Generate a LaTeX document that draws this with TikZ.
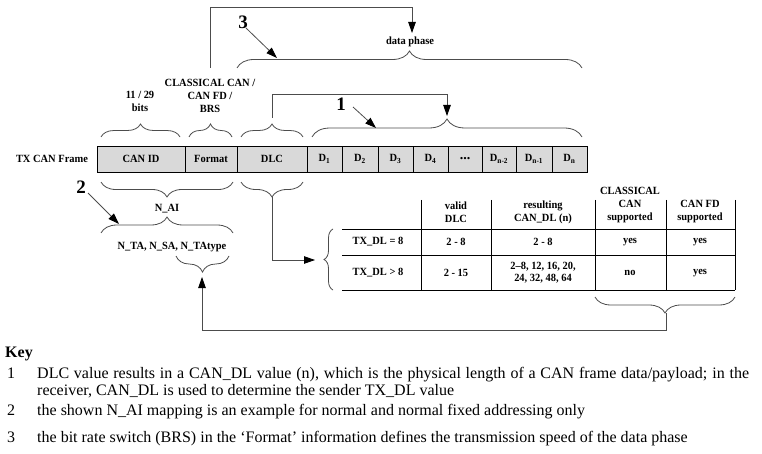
\documentclass[tikz,border=0pt]{standalone}
\usepackage{fontspec}
\setmainfont{Liberation Serif}
\newfontfamily\diafont[FakeStretch=0.95]{Liberation Serif}
\usetikzlibrary{arrows.meta,decorations.pathreplacing}
\definecolor{ln}{gray}{0.3}
\definecolor{cellfill}{gray}{0.85}
\newcommand\dfont{\diafont\bfseries\fontsize{11}{13}\selectfont}
\newcommand\kfont{\fontsize{16}{17}\selectfont}
\begin{document}
\begin{tikzpicture}[x=1pt,y=-1pt,
  lab/.style={font=\dfont, inner sep=0pt, align=center},
  cell/.style={draw=black, line width=0.8pt, fill=cellfill, minimum height=26pt, inner sep=0pt, font=\dfont},
  br/.style={draw=ln, line width=0.8pt, decorate, decoration={brace, amplitude=#1}},
  conn/.style={draw=ln, line width=0.8pt},
  arr/.style={-{Triangle[length=11pt,width=7.5pt,color=black]}},
  num/.style={font=\bfseries\fontsize{19}{20}\selectfont, inner sep=0pt},
  keyt/.style={font=\kfont, inner sep=0pt, anchor=base west},
  tl/.style={draw=black, line width=0.8pt}
]
\useasboundingbox (0,0) rectangle (762,454);

% frame
\node[lab] (txf) at (52,159) {TX CAN Frame};
\node[cell, minimum width=88pt] (canid) at (141,159) {CAN ID};
\node[cell, minimum width=52pt] (fmt) at (211,159) {Format};
\node[cell, minimum width=70pt] (dlc) at (272,159) {DLC};
\node[cell, minimum width=35pt] (d1) at (324.5,159) {D\textsubscript{1}};
\node[cell, minimum width=36pt] (d2) at (360,159) {D\textsubscript{2}};
\node[cell, minimum width=35pt] (d3) at (395.5,159) {D\textsubscript{3}};
\node[cell, minimum width=35pt] (d4) at (430.5,159) {D\textsubscript{4}};
\node[cell, minimum width=34pt, font=\bfseries\fontsize{14}{14}\selectfont] (dd) at (465,159) {...};
\node[cell, minimum width=34pt] (dn2) at (499,159) {D\textsubscript{n-2}};
\node[cell, minimum width=36pt] (dn1) at (534,159) {D\textsubscript{n-1}};
\node[cell, minimum width=35pt] (dn) at (569.5,159) {D\textsubscript{n}};

% top braces
\draw[br=13] (101,137) -- (180,137);
\draw[br=13] (189,137) -- (232,137);
\draw[br=13] (241,137) -- (303,137);
\draw[br=18] (312,137) -- (582,137);
\draw[br=17] (237,68) -- (582,68);

\node[lab] (bits) at (140,101) {11 / 29\\bits};
\node[lab] (brs) at (210,95.5) {CLASSICAL CAN /\\CAN FD /\\BRS};
\node[lab] (dp) at (410,42) {data phase};

\coordinate (brstop) at (210,68);
\coordinate (dparr) at (412,33);
\coordinate (dlctop) at (272,118);
\coordinate (dtop) at (447,116);
\draw[conn,arr] (brstop) -- ++(0,-61) -| (dparr);
\draw[conn,arr] (dlctop) -- (272,94) -| (dtop);

\node[num] (n3) at (243,22) {3};
\coordinate (n3s) at (246,28);
\coordinate (n3e) at (277,58);
\draw[conn,arr] (n3s) -- (n3e);
\node[num] (n1) at (341,104) {1};
\coordinate (n1s) at (353,107);
\coordinate (n1e) at (376,128);
\draw[conn,arr] (n1s) -- (n1e);

% bottom braces
\draw[br=15] (233,182) -- (101,182);
\draw[br=15] (303,182) -- (241,182);
\node[lab] (nai) at (167,209) {N\_AI};
\draw[br=16] (101,233) -- (233,233);
\node[lab] (nta) at (172,247) {N\_TA, N\_SA, N\_TAtype};
\draw[br=16] (229,256) -- (176,256);

\node[num] (n2) at (81,187) {2};
\coordinate (n2s) at (88,193);
\coordinate (n2e) at (119,224);
\draw[conn,arr] (n2s) -- (n2e);

% table
\draw[br=9] (333,290) -- (333,229);
\draw[tl] (342,229) -- (735,229) (342,255.3) -- (735,255.3) (342,290) -- (735,290);
\draw[tl] (421,200) -- (421,290) (491,200) -- (491,290) (595,200) -- (595,290) (666,200) -- (666,290) (735,200) -- (735,290);
\node[lab] (h1) at (456,212) {valid\\DLC};
\node[lab] (h2) at (543,212) {resulting\\CAN\_DL (n)};
\node[lab] (h3) at (630,205.5) {CLASSICAL\\CAN\\supported};
\node[lab] (h4) at (700,212) {CAN FD\\supported};
\node[lab] (r1a) at (378,242) {TX\_DL = 8};
\node[lab] (r1b) at (456,242) {2 - 8};
\node[lab] (r1c) at (543,242) {2 - 8};
\node[lab] (r1d) at (630,242) {yes};
\node[lab] (r1e) at (700,242) {yes};
\node[lab] (r2a) at (378,273) {TX\_DL > 8};
\node[lab] (r2b) at (456,273) {2 - 15};
\node[lab, font=\diafont\bfseries\fontsize{11}{12}\selectfont] (r2c) at (543,272.5) {2–8, 12, 16, 20,\\24, 32, 48, 64};
\node[lab] (r2d) at (630,273) {no};
\node[lab] (r2e) at (700,273) {yes};
\draw[br=16] (735,297) -- (595,297);

\coordinate (dlcbot) at (272,197);
\coordinate (tblarr) at (315,260);
\draw[conn,arr] (dlcbot) |- (tblarr);
\coordinate (tbltip) at (666,313);
\coordinate (ntatip) at (202,277);
\draw[conn,arr] (tbltip) -- (666,330) -| (ntatip);

% key
\node[keyt, font=\bfseries\kfont] (key) at (5,357) {Key};
\node[keyt] (k1n) at (7,378) {1};
\node[keyt] (k1a) at (37,378) {\hbox to 712pt{DLC value results in a CAN\_DL value (n), which is the physical length of a CAN frame data/payload; in the}};
\node[keyt] (k1b) at (37,395) {receiver, CAN\_DL is used to determine the sender TX\_DL value};
\node[keyt] (k2n) at (7,415) {2};
\node[keyt] (k2) at (37,415) {the shown N\_AI mapping is an example for normal and normal fixed addressing only};
\node[keyt] (k3n) at (7,442) {3};
\node[keyt] (k3) at (37,442) {the bit rate switch (BRS) in the ‘Format’ information defines the transmission speed of the data phase};
\end{tikzpicture}
\end{document}
